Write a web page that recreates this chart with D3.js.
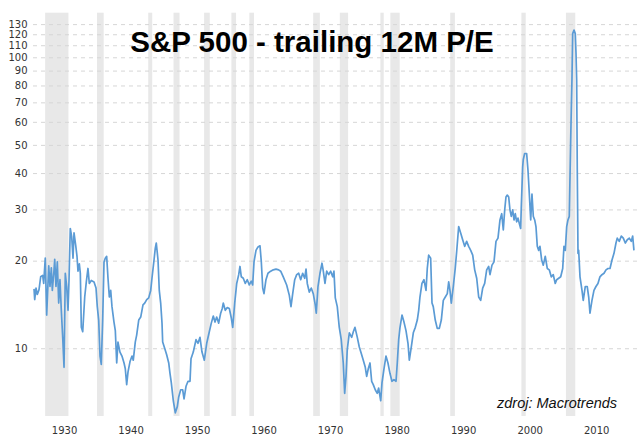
<!DOCTYPE html>
<html>
<head>
<meta charset="utf-8">
<script src="https://cdn.jsdelivr.net/npm/d3@7"></script>
<style>
  body { margin: 0; background: #fff; }
</style>
</head>
<body>
<div class="container"></div>
<script>
// values
const years = [
  1927.93, 1928.03, 1928.23, 1928.42, 1928.68, 1928.93, 1929.23, 1929.38, 1929.62, 1929.83,
  1930.14, 1930.33, 1930.53, 1930.68, 1930.93, 1931.04, 1931.23, 1931.43, 1931.64, 1931.83,
  1932.03, 1932.24, 1932.44, 1932.63, 1932.84, 1933.04, 1933.19, 1933.38, 1933.59, 1933.79,
  1933.94, 1934.19, 1934.39, 1934.54, 1934.74, 1934.89, 1935.04, 1935.25, 1935.55, 1935.79,
  1936.04, 1936.24, 1936.54, 1936.95, 1937.25, 1937.44, 1937.65, 1937.85, 1938.04, 1938.25,
  1938.45, 1938.64, 1938.85, 1939.05, 1939.25, 1939.46, 1939.65, 1939.95, 1940.15, 1940.36,
  1940.55, 1940.85, 1941.15, 1941.46, 1941.65, 1941.86, 1942.06, 1942.36, 1942.66, 1942.85,
  1943.15, 1943.36, 1943.67, 1943.97, 1944.31, 1944.57, 1944.87, 1945.17, 1945.47, 1945.66,
  1945.97, 1946.16, 1946.31, 1946.57, 1946.76, 1946.97, 1947.17, 1947.27, 1947.57, 1947.87,
  1948.18, 1948.37, 1948.57, 1948.87, 1949.17, 1949.47, 1949.68, 1949.98, 1950.28, 1950.48,
  1950.78, 1951.08, 1951.38, 1951.53, 1951.87, 1952.28, 1952.58, 1952.88, 1953.18, 1953.53,
  1953.89, 1954.28, 1954.58, 1954.88, 1955.14, 1955.39, 1955.69, 1955.99, 1956.23, 1956.38,
  1956.68, 1956.98, 1957.29, 1957.59, 1957.80, 1958.10, 1958.40, 1958.70, 1958.89, 1959.09,
  1959.39, 1959.69, 1959.99, 1960.29, 1960.59, 1960.80, 1961.00, 1961.30, 1961.60, 1961.90,
  1962.10, 1962.31, 1962.50, 1962.80, 1963.10, 1963.51, 1963.90, 1964.31, 1964.71, 1965.01,
  1965.40, 1965.91, 1966.31, 1966.56, 1966.82, 1967.12, 1967.42, 1967.72, 1968.02, 1968.32,
  1968.62, 1968.82, 1969.01, 1969.31, 1969.61, 1969.91, 1970.21, 1970.36, 1970.62, 1970.92,
  1971.22, 1971.42, 1971.67, 1971.93, 1972.23, 1972.53, 1972.83, 1973.02, 1973.22, 1973.52,
  1973.82, 1974.12, 1974.42, 1974.63, 1974.83, 1975.02, 1975.33, 1975.69, 1975.93, 1976.18,
  1976.53, 1976.83, 1977.13, 1977.43, 1977.73, 1977.94, 1978.18, 1978.44, 1978.69, 1978.93,
  1979.23, 1979.53, 1979.74, 1980.05, 1980.24, 1980.54, 1980.84, 1981.14, 1981.44, 1981.74,
  1982.04, 1982.35, 1982.54, 1982.75, 1982.95, 1983.25, 1983.55, 1983.85, 1984.15, 1984.35,
  1984.65, 1984.95, 1985.25, 1985.55, 1985.76, 1985.95, 1986.25, 1986.55, 1986.86, 1987.05,
  1987.26, 1987.56, 1987.76, 1987.95, 1988.25, 1988.55, 1988.86, 1989.16, 1989.46, 1989.76,
  1990.06, 1990.27, 1990.46, 1990.66, 1990.96, 1991.26, 1991.47, 1991.77, 1992.07, 1992.37,
  1992.67, 1992.97, 1993.27, 1993.58, 1993.88, 1994.18, 1994.48, 1994.78, 1995.08, 1995.38,
  1995.68, 1995.98, 1996.28, 1996.48, 1996.78, 1997.08, 1997.38, 1997.68, 1997.98, 1998.24,
  1998.48, 1998.69, 1998.88, 1999.08, 1999.29, 1999.48, 1999.68, 1999.89, 2000.09, 2000.28,
  2000.49, 2000.69, 2000.88, 2001.09, 2001.18, 2001.39, 2001.48, 2001.69, 2001.99, 2002.19,
  2002.39, 2002.60, 2002.79, 2002.99, 2003.20, 2003.39, 2003.59, 2003.80, 2003.99, 2004.25,
  2004.49, 2004.79, 2005.09, 2005.39, 2005.69, 2005.99, 2006.29, 2006.50, 2006.81, 2007.11,
  2007.41, 2007.60, 2007.80, 2008.01, 2008.20, 2008.40, 2008.61, 2008.70, 2008.80, 2008.91,
  2009.11, 2009.30, 2009.41, 2009.51, 2009.60, 2009.71, 2009.81, 2010.01, 2010.31, 2010.50,
  2010.80, 2011.10, 2011.32, 2011.51, 2011.81, 2012.11, 2012.41, 2012.71, 2013.01, 2013.31,
  2013.62, 2013.92, 2014.22, 2014.52, 2014.82, 2015.12, 2015.42, 2015.61, 2015.91, 2016.22,
  2016.52, 2016.82, 2017.12, 2017.42, 2017.72, 2017.93, 2018.12
];
const peValues = [
  16.0, 14.7, 16.1, 15.3, 15.9, 17.6, 17.8, 16.7, 20.4, 13.0,
  19.2, 16.3, 18.9, 15.8, 18.5, 20.2, 16.3, 19.8, 14.3, 17.2,
  13.5, 10.9, 8.6, 18.1, 16.3, 13.5, 17.2, 25.8, 24.2, 20.4,
  24.9, 22.6, 20.7, 18.4, 19.5, 18.1, 11.8, 11.4, 15.0, 16.9,
  18.8, 16.7, 17.1, 16.9, 16.1, 13.9, 12.5, 9.4, 8.8, 12.5,
  19.8, 20.4, 20.7, 17.4, 15.0, 15.8, 13.9, 12.3, 11.5, 8.9,
  10.5, 9.7, 9.4, 8.9, 8.5, 7.5, 8.3, 9.0, 9.4, 9.1,
  10.5, 11.1, 12.5, 12.8, 14.1, 14.3, 14.7, 14.9, 15.8, 17.4,
  20.1, 22.1, 23.0, 20.1, 15.8, 14.3, 12.2, 10.5, 10.0, 9.5,
  8.9, 8.2, 7.6, 6.6, 6.0, 6.3, 6.8, 7.2, 7.2, 6.7,
  7.4, 7.7, 7.7, 9.2, 9.7, 10.7, 10.4, 10.9, 9.7, 9.1,
  10.4, 11.4, 12.2, 12.9, 12.3, 12.8, 12.2, 13.2, 13.7, 14.3,
  13.5, 13.8, 13.7, 12.7, 11.8, 14.3, 16.7, 17.9, 19.1, 17.6,
  17.4, 16.7, 17.2, 16.5, 17.0, 16.5, 19.8, 21.7, 22.3, 22.5,
  19.8, 16.1, 15.4, 17.2, 18.1, 18.4, 18.6, 18.7, 18.6, 18.4,
  17.6, 16.5, 15.2, 13.9, 15.4, 17.2, 17.9, 18.1, 17.2, 18.1,
  17.4, 18.7, 16.7, 15.6, 16.1, 15.4, 14.1, 13.2, 16.3, 18.1,
  19.6, 18.4, 16.7, 18.4, 17.9, 18.4, 17.6, 18.4, 14.9, 13.9,
  11.8, 10.7, 8.9, 7.0, 8.0, 9.9, 11.3, 10.9, 11.4, 11.8,
  10.9, 10.1, 9.6, 9.1, 8.6, 8.0, 8.5, 8.9, 7.7, 7.5,
  7.2, 7.0, 7.3, 6.6, 7.6, 8.5, 9.4, 8.9, 8.2, 7.7,
  7.8, 7.7, 8.9, 10.7, 11.8, 13.0, 12.3, 11.5, 10.4, 9.1,
  10.1, 11.3, 11.8, 12.5, 13.5, 15.0, 16.7, 17.2, 15.8, 18.8,
  20.9, 20.4, 14.3, 13.9, 12.5, 11.7, 11.7, 12.5, 14.6, 15.0,
  15.4, 16.9, 15.8, 14.3, 16.3, 18.9, 21.5, 26.2, 24.9, 23.6,
  22.4, 23.3, 22.4, 21.7, 20.9, 18.6, 17.4, 15.0, 14.6, 16.1,
  16.7, 18.6, 19.1, 17.9, 19.3, 19.8, 23.3, 23.9, 27.6, 29.0,
  25.5, 29.9, 33.1, 33.6, 33.1, 29.9, 28.4, 29.9, 27.6, 29.0,
  27.2, 28.0, 26.9, 25.8, 30.3, 41.9, 44.5, 46.7, 46.7, 40.9,
  33.9, 27.6, 33.9, 28.4, 27.6, 26.2, 22.4, 21.7, 22.4, 20.1,
  19.3, 20.7, 18.8, 18.6, 17.6, 17.9, 16.7, 17.2, 17.4, 17.6,
  18.8, 22.4, 21.7, 26.2, 27.6, 28.4, 51.9, 65.8, 83.5, 120.6,
  124.0, 120.6, 103.0, 83.5, 40.9, 21.2, 21.7, 17.6, 15.8, 14.6,
  16.3, 16.3, 15.0, 13.2, 14.6, 15.8, 16.3, 16.7, 17.6, 17.9,
  18.1, 18.6, 18.8, 18.8, 20.1, 21.2, 23.0, 23.9, 23.3, 24.3,
  23.9, 23.0, 23.6, 23.9, 23.3, 24.3, 21.7
];
const recessionStart = [1929.6, 1937.4, 1945.1, 1948.9, 1953.5, 1957.6, 1960.3, 1969.9, 1973.9, 1980.0, 1981.5, 1990.5, 2001.2, 2007.9];
const recessionEnd   = [1933.1, 1938.4, 1945.7, 1949.8, 1954.35, 1958.3, 1961.0, 1970.9, 1975.15, 1980.5, 1982.9, 1991.2, 2001.85, 2009.3];
const yTicks = [10, 20, 30, 40, 50, 60, 70, 80, 90, 100, 110, 120, 130];
const xTicks = [1930, 1940, 1950, 1960, 1970, 1980, 1990, 2000, 2010];

const w = 640;
const h = 438;
const plotLeft = 33;
const plotRight = 638;
const plotTop = 12.7;
const plotBottom = 416;

const xScale = d3.scaleLinear()
                 .domain([1927.775, 2018.73])
                 .range([plotLeft, plotRight]);
const yScale = d3.scaleLog()
                 .domain([5.85, 142.3])
                 .range([plotBottom, plotTop]);

const svg = d3.select(".container")
  .append("svg")
  .attr("width", w)
  .attr("height", h);

// recession bands
const bands = recessionStart.map((s, i) => ({ start: s, end: recessionEnd[i] }));
svg.append("g")
  .selectAll("rect")
  .data(bands)
  .enter()
  .append("rect")
  .attr("x", (d) => xScale(d.start))
  .attr("width", (d) => xScale(d.end) - xScale(d.start))
  .attr("y", plotTop)
  .attr("height", plotBottom - plotTop)
  .attr("fill", "#e8e8e8");

// dashed grid
const grid = d3.axisLeft(yScale)
  .tickValues(yTicks)
  .tickSize(-(plotRight - plotLeft))
  .tickFormat("");
svg.append("g")
  .attr("transform", "translate(" + plotLeft + ",0)")
  .call(grid)
  .call((g) => g.select(".domain").remove())
  .selectAll("line")
  .attr("stroke", "#d6d6d6")
  .attr("stroke-dasharray", "4,4");

// y labels
const yAxis = d3.axisLeft(yScale)
  .tickValues(yTicks)
  .tickSize(0)
  .tickPadding(5.5)
  .tickFormat(d3.format("d"));
svg.append("g")
  .attr("transform", "translate(" + plotLeft + ",0)")
  .call(yAxis)
  .call((g) => g.select(".domain").remove())
  .selectAll("text")
  .attr("font-family", "DejaVu Sans, Verdana, sans-serif")
  .attr("font-size", 10)
  .attr("fill", "#333");

// x labels
const xAxis = d3.axisBottom(xScale)
  .tickValues(xTicks)
  .tickSize(0)
  .tickFormat(d3.format("d"));
svg.append("g")
  .attr("transform", "translate(0," + plotBottom + ")")
  .call(xAxis)
  .call((g) => g.select(".domain").remove())
  .selectAll("text")
  .attr("text-anchor", "start")
  .attr("x", 3.5)
  .attr("y", 17.5)
  .attr("dy", 0)
  .attr("font-family", "DejaVu Sans, Verdana, sans-serif")
  .attr("font-size", 10)
  .attr("fill", "#333");

// P/E line
const line = d3.line()
  .x((d, i) => xScale(years[i]))
  .y((d) => yScale(d));
svg.append("path")
  .datum(peValues)
  .attr("d", line)
  .attr("fill", "none")
  .attr("stroke", "#5b9bd5")
  .attr("stroke-width", 1.7)
  .attr("stroke-linejoin", "round");

svg.append("text")
  .attr("x", 312)
  .attr("y", 52)
  .attr("text-anchor", "middle")
  .attr("font-family", "Liberation Sans, Arial, sans-serif")
  .attr("font-weight", "bold")
  .attr("font-size", 29.5)
  .attr("fill", "#000")
  .text("S&P 500 - trailing 12M P/E");

svg.append("text")
  .attr("x", 497)
  .attr("y", 408)
  .attr("font-family", "Liberation Sans, Arial, sans-serif")
  .attr("font-style", "italic")
  .attr("font-size", 14.5)
  .attr("fill", "#111")
  .text("zdroj: Macrotrends");
</script>
</body>
</html>
